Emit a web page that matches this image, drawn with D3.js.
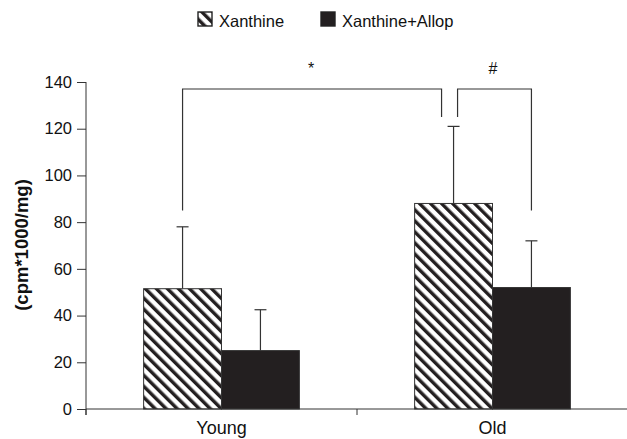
<!DOCTYPE html>
<html>
<head>
<meta charset="utf-8">
<script src="https://cdn.jsdelivr.net/npm/d3@7"></script>
<style>
  body { margin: 0; background: #fff; }
  svg { font-family: "Liberation Sans", Arial, sans-serif; }
</style>
</head>
<body>
<svg id="chart" width="627" height="439"></svg>
<script>
const categories = ['Young', 'Old'];
const series = ['Xanthine', 'Xanthine+Allop'];
const xanthine = [51.5, 88];
const xanthineAllop = [25, 52];
const xanthineErr = [26.5, 33];
const xanthineAllopErr = [17.5, 20];
const yTicks = [0, 20, 40, 60, 80, 100, 120, 140];
// significance brackets: [left leg bottom, right leg bottom, top]
const sigLabels = ['*', '#'];
const sigLevels = [[85, 125, 137], [125, 85, 137]];

const svg = d3.select('#chart');

const x0 = d3.scaleBand().domain(categories).range([86, 628]).padding(0);
const x1 = d3.scaleBand().domain(series).range([0, x0.bandwidth()]).paddingInner(0).paddingOuter(0.74);
const y = d3.scaleLinear().domain([0, 140]).range([409, 82]);

// hatch pattern
const defs = svg.append('defs');
const pat = defs.append('pattern')
  .attr('id', 'hatch')
  .attr('patternUnits', 'userSpaceOnUse')
  .attr('width', 7.8).attr('height', 7.8)
  .attr('patternTransform', 'rotate(-45)');
pat.append('rect').attr('width', 7.8).attr('height', 7.8).attr('fill', '#fff');
pat.append('rect').attr('x', 0).attr('y', 0).attr('width', 3.4).attr('height', 7.8).attr('fill', '#231f20');

const rows = categories.map((c, i) => ({
  cat: c,
  vals: [
    { s: series[0], v: xanthine[i], e: xanthineErr[i] },
    { s: series[1], v: xanthineAllop[i], e: xanthineAllopErr[i] }
  ]
}));

// error bars (behind bars)
const eg = svg.append('g').attr('stroke', '#333').attr('stroke-width', 1.2);
rows.forEach(r => {
  r.vals.forEach(d => {
    const cx = x0(r.cat) + x1(d.s) + x1.bandwidth() / 2;
    eg.append('line').attr('x1', cx).attr('x2', cx).attr('y1', y(d.v)).attr('y2', y(d.v + d.e));
    eg.append('line').attr('x1', cx - 6).attr('x2', cx + 6).attr('y1', y(d.v + d.e)).attr('y2', y(d.v + d.e));
  });
});

// bars
const grp = svg.append('g').selectAll('g').data(rows).enter().append('g')
  .attr('transform', d => 'translate(' + x0(d.cat) + ',0)');
grp.selectAll('rect').data(d => d.vals).enter().append('rect')
  .attr('x', d => x1(d.s))
  .attr('y', d => y(d.v))
  .attr('width', x1.bandwidth())
  .attr('height', d => y(0) - y(d.v))
  .attr('fill', d => d.s === series[0] ? 'url(#hatch)' : '#231f20')
  .attr('stroke', '#333')
  .attr('stroke-width', 1);

// y axis
const yAxis = svg.append('g')
  .attr('transform', 'translate(86,0)')
  .call(d3.axisLeft(y).tickValues(yTicks).tickSize(9).tickPadding(5));
yAxis.select('.domain').attr('d', 'M0,82V415').attr('stroke', '#333');
yAxis.selectAll('.tick line').attr('stroke', '#333');
yAxis.selectAll('text').attr('font-size', 16.5).attr('fill', '#111').attr('font-family', '"Liberation Sans", Arial, sans-serif');

// x axis
const xg = svg.append('g').attr('stroke', '#333').attr('stroke-width', 1);
xg.append('line').attr('x1', 86).attr('x2', 627).attr('y1', 409).attr('y2', 409);
[x0('Young'), x0('Old'), x0('Old') + x0.bandwidth()].forEach(t => {
  xg.append('line').attr('x1', t).attr('x2', t).attr('y1', 409).attr('y2', 415);
});
svg.append('g').selectAll('text').data(categories).enter().append('text')
  .attr('x', d => x0(d) + x0.bandwidth() / 2)
  .attr('y', 434)
  .attr('text-anchor', 'middle')
  .attr('font-size', 18)
  .attr('fill', '#111')
  .text(d => d);

// y label
svg.append('text')
  .attr('transform', 'translate(28,' + 245 + ') rotate(-90)')
  .attr('text-anchor', 'middle')
  .attr('font-size', 18.5)
  .attr('font-weight', 'bold')
  .attr('fill', '#111')
  .text('(cpm*1000/mg)');

// significance brackets
const cxOf = (cat, s) => x0(cat) + x1(s) + x1.bandwidth() / 2;
const legs = [
  [cxOf('Young', series[0]), cxOf('Old', series[0]) - 12],
  [cxOf('Old', series[0]) + 4, cxOf('Old', series[1])]
];
const bg = svg.append('g').attr('fill', 'none').attr('stroke', '#333').attr('stroke-width', 1.2);
legs.forEach((l, i) => {
  const lv = sigLevels[i];
  bg.append('path').attr('d',
    'M' + l[0] + ',' + y(lv[0]) + 'V' + y(lv[2]) + 'H' + l[1] + 'V' + y(lv[1]));
  svg.append('text')
    .attr('x', i === 0 ? 311 : 493)
    .attr('y', y(lv[2]) - 15)
    .attr('text-anchor', 'middle')
    .attr('font-size', 16)
    .attr('fill', '#111')
    .text(sigLabels[i]);
});

// legend
const lg = svg.append('g');
const legX = [198, 321];
series.forEach((s, i) => {
  lg.append('rect')
    .attr('x', legX[i]).attr('y', 12).attr('width', 14).attr('height', 14)
    .attr('fill', i === 0 ? 'url(#hatch)' : '#231f20')
    .attr('stroke', '#222').attr('stroke-width', 1.4);
  lg.append('text')
    .attr('x', legX[i] + 21).attr('y', 27)
    .attr('font-size', 16.5).attr('fill', '#111')
    .text(s);
});
</script>
</body>
</html>
